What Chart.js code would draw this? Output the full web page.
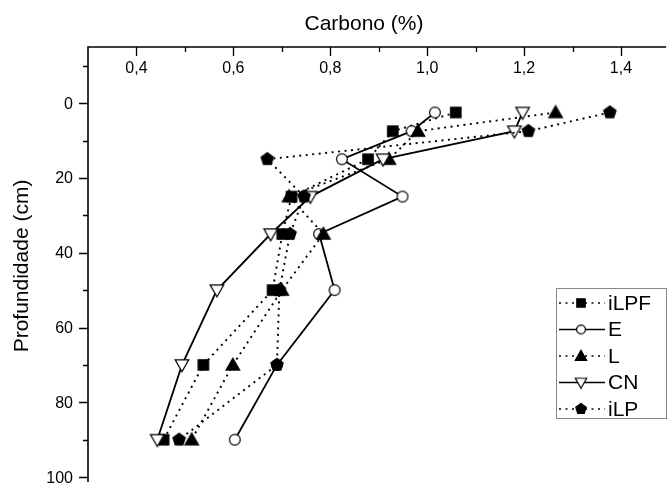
<!DOCTYPE html>
<html>
<head>
<meta charset="utf-8">
<script src="https://cdn.jsdelivr.net/npm/chart.js@4.4.1/dist/chart.umd.min.js"></script>
<style>
html, body { margin: 0; padding: 0; background: #fff; overflow: hidden; }
#chart { display: block; }
</style>
</head>
<body>
<canvas id="chart" width="672" height="488"></canvas>
<script>
// depth (cm) of each sample layer
const depths = [2.5, 7.5, 15, 25, 35, 50, 70, 90];

// carbon (%) per treatment, one value per depth
const iLPF = [1.059, 0.929, 0.878, 0.720, 0.701, 0.681, 0.538, 0.456];
const E    = [1.016, 0.968, 0.824, 0.949, 0.777, 0.809, 0.690, 0.603];
const L    = [1.265, 0.981, 0.921, 0.715, 0.786, 0.700, 0.599, 0.514];
const CN   = [1.197, 1.180, 0.909, 0.759, 0.677, 0.566, 0.494, 0.443];
const iLP  = [1.377, 1.209, 0.670, 0.746, 0.717, 0.695, 0.690, 0.488];

const seriesNames = ['iLPF', 'E', 'L', 'CN', 'iLP'];
const seriesValues = [iLPF, E, L, CN, iLP];

const xTicks = [0.4, 0.6, 0.8, 1.0, 1.2, 1.4];
const xMinorTicks = [0.5, 0.7, 0.9, 1.1, 1.3];
const yTicks = [0, 20, 40, 60, 80, 100];
const yMinorTicks = [-10, 10, 30, 50, 70, 90];

const FONT = '"Liberation Sans", Arial, sans-serif';

// Build a marker image (Chart.js accepts a canvas as pointStyle)
function makeMarker(shape, r, filled) {
    const size = Math.ceil(r * 2 + 4) + (Math.ceil(r * 2 + 4) % 2);
    const c = document.createElement('canvas');
    c.width = size;
    c.height = size;
    const g = c.getContext('2d');
    const m = size / 2;
    g.beginPath();
    if (shape === 'square') {
        g.rect(m - r, m - r, 2 * r, 2 * r);
    } else if (shape === 'circle') {
        g.arc(m, m, r, 0, Math.PI * 2);
    } else if (shape === 'up') {
        g.moveTo(m, m - r);
        g.lineTo(m + r, m + r * 0.75);
        g.lineTo(m - r, m + r * 0.75);
        g.closePath();
    } else if (shape === 'down') {
        g.moveTo(m, m + r);
        g.lineTo(m + r, m - r * 0.75);
        g.lineTo(m - r, m - r * 0.75);
        g.closePath();
    } else if (shape === 'pentagon') {
        for (let k = 0; k < 5; k++) {
            const a = -Math.PI / 2 + k * 2 * Math.PI / 5;
            const px = m + r * Math.cos(a), py = m + r * Math.sin(a);
            if (k === 0) g.moveTo(px, py); else g.lineTo(px, py);
        }
        g.closePath();
    }
    g.fillStyle = filled ? '#000' : '#fff';
    g.fill();
    g.lineWidth = 1.2;
    g.strokeStyle = '#000';
    g.stroke();
    return c;
}

const markers = [
    makeMarker('square', 5.2, true),
    makeMarker('circle', 5.4, false),
    makeMarker('up', 6.8, true),
    makeMarker('down', 6.8, false),
    makeMarker('pentagon', 6.5, true)
];
const legendMarkers = [
    makeMarker('square', 4.2, true),
    makeMarker('circle', 4.4, false),
    makeMarker('up', 5.7, true),
    makeMarker('down', 5.7, false),
    makeMarker('pentagon', 5.5, true)
];
const dashes = [[2, 4.5], [], [2, 4.5], [], [2, 4.5]];

const datasets = seriesNames.map((name, i) => ({
    label: name,
    data: depths.map((d, j) => ({ x: seriesValues[i][j], y: d })),
    showLine: true,
    borderColor: '#000',
    borderWidth: dashes[i].length ? 1.9 : 1.8,
    borderDash: dashes[i],
    pointStyle: markers[i],
    pointRadius: 6,
    order: 5 - i
}));

// draws the axes frame, ticks, labels, titles and the legend box
const frameAndLegend = {
    id: 'frameAndLegend',
    afterDatasetsDraw(chart) {
        const ctx = chart.ctx;
        const area = chart.chartArea;
        const xs = chart.scales.x, ys = chart.scales.y;
        ctx.save();
        ctx.strokeStyle = '#000';
        ctx.fillStyle = '#000';
        ctx.lineWidth = 1.6;
        ctx.setLineDash([]);

        // axis lines
        ctx.beginPath();
        ctx.moveTo(area.left, area.bottom + 2);
        ctx.lineTo(area.left, area.top);
        ctx.lineTo(area.right + 2, area.top);
        ctx.stroke();

        // top axis ticks (pointing into the plot)
        ctx.lineWidth = 1.3;
        ctx.beginPath();
        xTicks.forEach(v => {
            const px = Math.round(xs.getPixelForValue(v)) + 0.5;
            ctx.moveTo(px, area.top);
            ctx.lineTo(px, area.top + 9);
        });
        xMinorTicks.forEach(v => {
            const px = Math.round(xs.getPixelForValue(v)) + 0.5;
            ctx.moveTo(px, area.top);
            ctx.lineTo(px, area.top + 5);
        });
        // left axis ticks (pointing outward)
        yTicks.forEach(v => {
            const py = Math.round(ys.getPixelForValue(v)) + 0.5;
            ctx.moveTo(area.left, py);
            ctx.lineTo(area.left - 9, py);
        });
        yMinorTicks.forEach(v => {
            const py = Math.round(ys.getPixelForValue(v)) + 0.5;
            ctx.moveTo(area.left, py);
            ctx.lineTo(area.left - 5, py);
        });
        ctx.stroke();

        // tick labels
        ctx.font = '16px ' + FONT;
        ctx.textAlign = 'center';
        ctx.textBaseline = 'middle';
        xTicks.forEach(v => {
            ctx.fillText(v.toFixed(1).replace('.', ','), xs.getPixelForValue(v), area.top + 22);
        });
        ctx.textAlign = 'right';
        yTicks.forEach(v => {
            ctx.fillText(String(v), area.left - 15, ys.getPixelForValue(v) + 1);
        });

        // axis titles
        ctx.font = '21px ' + FONT;
        ctx.textAlign = 'center';
        ctx.fillText('Carbono (%)', 364, 24);
        ctx.save();
        ctx.translate(22, 266);
        ctx.rotate(-Math.PI / 2);
        ctx.fillText('Profundidade (cm)', 0, 0);
        ctx.restore();

        // legend
        const box = { left: 556, top: 288, right: 666, bottom: 418 };
        ctx.fillStyle = '#fff';
        ctx.fillRect(box.left, box.top, box.right - box.left, box.bottom - box.top);
        ctx.strokeStyle = '#888';
        ctx.lineWidth = 1;
        ctx.strokeRect(box.left + 0.5, box.top + 0.5, box.right - box.left, box.bottom - box.top);
        ctx.font = '21px ' + FONT;
        ctx.textAlign = 'left';
        ctx.fillStyle = '#000';
        seriesNames.forEach((name, i) => {
            const y = box.top + 15 + i * 26.5;
            ctx.strokeStyle = '#000';
            ctx.lineWidth = 1.6;
            ctx.setLineDash(dashes[i]);
            ctx.beginPath();
            ctx.moveTo(559, y);
            ctx.lineTo(605, y);
            ctx.stroke();
            ctx.setLineDash([]);
            const mk = legendMarkers[i];
            ctx.drawImage(mk, 581 - mk.width / 2, y - mk.height / 2);
            ctx.fillText(name, 608, y + 1);
        });
        ctx.restore();
    }
};

new Chart(document.getElementById('chart'), {
    type: 'scatter',
    data: { datasets: datasets },
    options: {
        responsive: false,
        animation: false,
        devicePixelRatio: 1,
        layout: { padding: { left: 88, top: 47, right: 0, bottom: 0 } },
        plugins: {
            legend: { display: false },
            tooltip: { enabled: false }
        },
        scales: {
            x: { type: 'linear', display: false, min: 0.3, max: 1.489 },
            y: { type: 'linear', display: false, min: -15, max: 100.8, reverse: true }
        }
    },
    plugins: [frameAndLegend]
});
</script>
</body>
</html>
